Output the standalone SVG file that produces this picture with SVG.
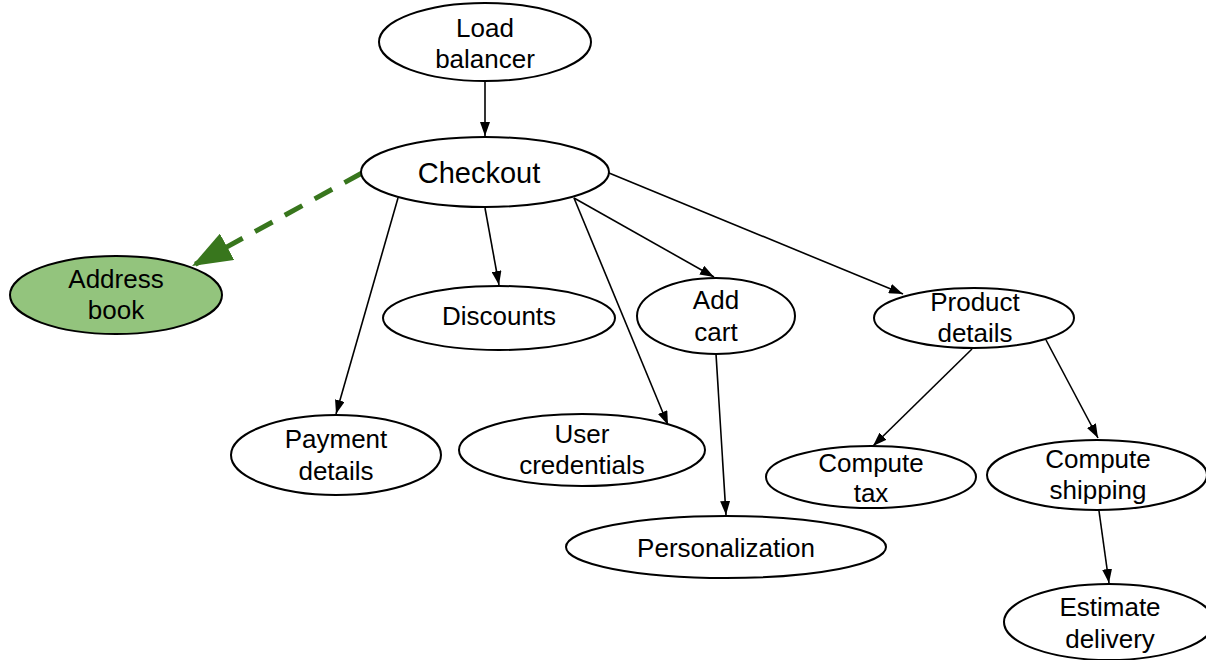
<svg xmlns="http://www.w3.org/2000/svg" width="1206" height="660" viewBox="0 0 1206 660">
  <style>
    .node ellipse { fill: #ffffff; stroke: #000000; stroke-width: 2; }
    .node.hl ellipse { fill: #93c47d; }
    .node text { font-family: "Liberation Sans", Arial, sans-serif; font-size: 26px; fill: #000000; text-anchor: middle; }
    .edge { stroke: #000000; stroke-width: 1.6; fill: none; marker-end: url(#arrow); }
    .edge.dashed { stroke: #38761d; stroke-width: 5; stroke-dasharray: 20 14; marker-end: url(#arrowGreen); }
  </style>
  <defs>
    <marker id="arrow" viewBox="0 0 14 10" refX="14" refY="5" markerWidth="14" markerHeight="10" markerUnits="userSpaceOnUse" orient="auto">
      <path d="M0,0 L14,5 L0,10 Z" fill="#000000"/>
    </marker>
    <marker id="arrowGreen" viewBox="0 0 40 30" refX="40" refY="15" markerWidth="40" markerHeight="30" markerUnits="userSpaceOnUse" orient="auto">
      <path d="M0,0 L40,15 L0,30 Z" fill="#38761d"/>
    </marker>
  </defs>
  <rect width="1206" height="660" fill="#ffffff"/>

  <g id="connectors">
    <line class="edge" x1="485" y1="82" x2="485" y2="136"/>
    <line class="edge dashed" x1="362" y1="173" x2="192" y2="266"/>
    <line class="edge" x1="398" y1="198" x2="336" y2="414"/>
    <line class="edge" x1="485" y1="208" x2="499" y2="285"/>
    <line class="edge" x1="574" y1="198" x2="668" y2="425"/>
    <line class="edge" x1="574" y1="198" x2="714" y2="277"/>
    <line class="edge" x1="609" y1="173" x2="903" y2="294"/>
    <line class="edge" x1="716" y1="354" x2="726" y2="515"/>
    <line class="edge" x1="972" y1="349" x2="873" y2="446"/>
    <line class="edge" x1="1046" y1="340" x2="1098" y2="438"/>
    <line class="edge" x1="1099" y1="511" x2="1109" y2="583"/>
  </g>

  <g id="load-balancer" class="node">
    <ellipse cx="485" cy="42" rx="106" ry="39"/>
    <text x="485" y="37">Load</text>
    <text x="485" y="68">balancer</text>
  </g>
  <g id="checkout" class="node">
    <ellipse cx="485" cy="172" rx="124" ry="35"/>
    <text x="479" y="183" style="font-size:29px">Checkout</text>
  </g>
  <g id="address-book" class="node hl">
    <ellipse cx="116" cy="295" rx="106" ry="39"/>
    <text x="116" y="288">Address</text>
    <text x="116" y="319">book</text>
  </g>
  <g id="discounts" class="node">
    <ellipse cx="499" cy="318" rx="116" ry="32"/>
    <text x="499" y="325">Discounts</text>
  </g>
  <g id="add-cart" class="node">
    <ellipse cx="716" cy="316" rx="79" ry="38"/>
    <text x="716" y="309">Add</text>
    <text x="716" y="341">cart</text>
  </g>
  <g id="product-details" class="node">
    <ellipse cx="974" cy="318" rx="100" ry="30"/>
    <text x="975" y="311">Product</text>
    <text x="975" y="342">details</text>
  </g>
  <g id="payment-details" class="node">
    <ellipse cx="336" cy="455" rx="105" ry="40"/>
    <text x="336" y="448">Payment</text>
    <text x="336" y="480">details</text>
  </g>
  <g id="user-credentials" class="node">
    <ellipse cx="582" cy="450" rx="123" ry="36"/>
    <text x="582" y="443">User</text>
    <text x="582" y="474">credentials</text>
  </g>
  <g id="compute-tax" class="node">
    <ellipse cx="871" cy="477" rx="105" ry="31"/>
    <text x="871" y="472">Compute</text>
    <text x="871" y="502">tax</text>
  </g>
  <g id="compute-shipping" class="node">
    <ellipse cx="1097" cy="475" rx="110" ry="35"/>
    <text x="1098" y="468">Compute</text>
    <text x="1098" y="499">shipping</text>
  </g>
  <g id="personalization" class="node">
    <ellipse cx="726" cy="547" rx="160" ry="31"/>
    <text x="726" y="557">Personalization</text>
  </g>
  <g id="estimate-delivery" class="node">
    <ellipse cx="1109" cy="622" rx="105" ry="38"/>
    <text x="1110" y="616">Estimate</text>
    <text x="1110" y="648">delivery</text>
  </g>
</svg>
